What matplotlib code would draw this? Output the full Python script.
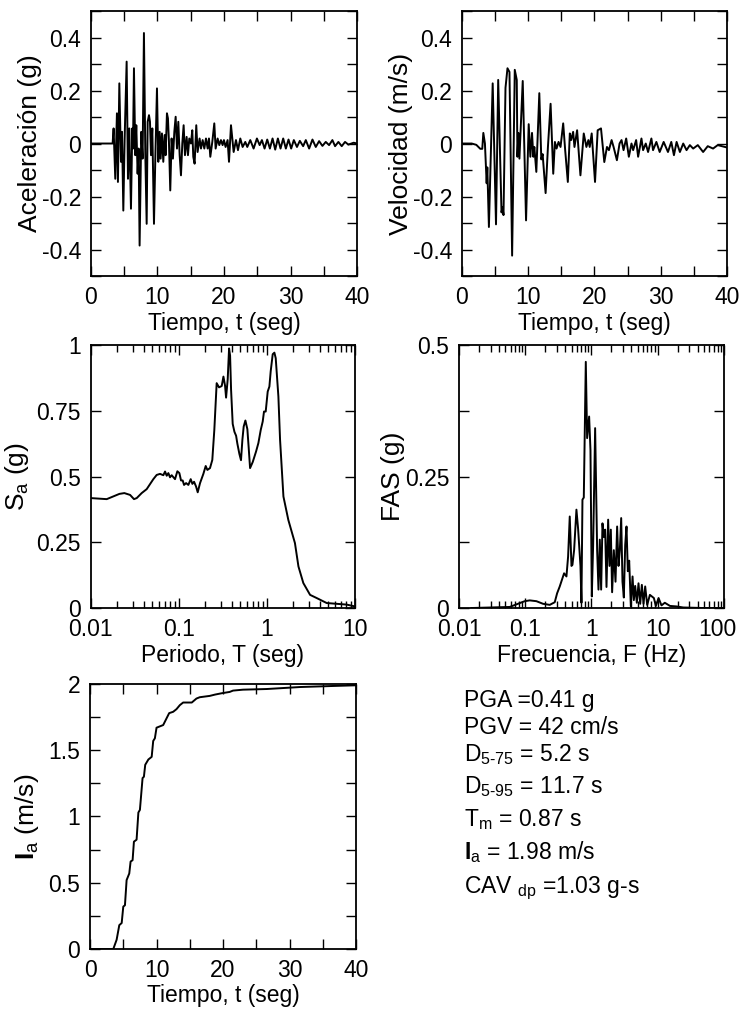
import matplotlib
matplotlib.use("Agg")
import matplotlib.pyplot as plt
from matplotlib.transforms import ScaledTranslation
from matplotlib.ticker import MultipleLocator, FixedLocator, LogLocator, FuncFormatter, NullFormatter

plt.rcParams["font.family"] = ["Liberation Sans", "DejaVu Sans"]
plt.rcParams["mathtext.fontset"] = "custom"
plt.rcParams["mathtext.rm"] = "Liberation Sans"
plt.rcParams["mathtext.it"] = "Liberation Sans"
plt.rcParams["mathtext.bf"] = "Liberation Sans:bold"
plt.rcParams["axes.unicode_minus"] = False

# aceleracion (g) vs tiempo (s)
acc_t = [0, 3.25, 3.40, 3.65, 3.90, 4.05, 4.26, 4.51, 4.66, 4.86, 5.06, 5.36, 5.56, 5.76, 6.01,
         6.21, 6.31, 6.46, 6.66, 6.81, 7.01, 7.16, 7.31, 7.56, 7.76, 7.96, 8.17, 8.37, 8.52,
         8.72, 8.87, 9.02, 9.22, 9.47, 9.67, 9.92, 10.12, 10.32, 10.47, 10.67, 10.87, 11.07,
         11.22, 11.42, 11.57, 11.72, 11.92, 12.12, 12.32, 12.53, 12.73, 12.93, 13.13, 13.33,
         13.53, 13.73, 13.93, 14.13, 14.38, 14.58, 14.78, 15.03, 15.23, 15.38, 15.58, 15.83,
         16.03, 16.33, 16.54, 16.79, 17.04, 17.29, 17.54, 17.74, 17.94, 18.24, 18.54, 18.74,
         19.04, 19.29, 19.54, 19.79, 19.99, 20.24, 20.54, 20.75, 21.05, 21.45, 21.8, 22.1,
         22.45, 22.8, 23.2, 23.5, 23.95, 24.45, 24.95, 25.36, 25.7, 26.1, 26.5, 26.9, 27.3,
         27.7, 28.1, 28.5, 28.9, 29.3, 29.7, 30.1, 30.5, 30.97, 31.4, 31.9, 32.3, 32.8, 33.3,
         33.8, 34.3, 34.8, 35.3, 35.8, 36.3, 36.7, 37.2, 37.7, 38.2, 38.7, 39.5, 40]
acc_g = [0, 0, 0.057, -0.133, 0.114, -0.145, 0.227, -0.069, 0.044, -0.253, 0.019, 0.309,
         -0.133, 0.057, -0.246, 0.057, -0.019, 0.284, -0.044, 0.069, -0.114, -0.019, -0.385,
         0.044, -0.057, 0.417, -0.044, -0.303, 0.082, 0.107, 0.082, -0.044, 0.057, -0.303,
         -0.057, 0.208, -0.069, 0.044, -0.057, 0.038, -0.069, 0.032, -0.044, 0.114, 0.095,
         0.006, -0.177, 0.019, -0.057, 0.044, 0.101, -0.019, 0.082, -0.044, -0.120, 0,
         0.069, -0.044, 0.025, -0.044, 0.019, 0, 0.050, -0.050, -0.076, 0.069, -0.032,
         0.019, -0.019, 0.013, -0.019, 0.019, -0.019, 0.019, -0.050, 0.006, 0.076, -0.019,
         0.019, -0.006, 0.013, -0.006, 0.013, -0.013, 0.013, -0.069, 0.069, -0.032, 0.013,
         -0.025, 0.019, -0.013, 0.006, -0.013, 0.013, -0.019, 0.019, -0.006, 0.013, -0.019,
         0.015, -0.019, 0.019, -0.023, 0.019, -0.019, 0.019, -0.019, 0.015, -0.019, 0.013,
         -0.013, 0.010, -0.010, 0.013, -0.019, 0.015, -0.013, 0.009, -0.009, 0.006, -0.006,
         0.013, -0.010, 0.006, -0.010, 0.006, -0.004, 0.003, 0]

# velocidad (m/s) vs tiempo (s)
vel_t = [0, 1.5, 2.2, 2.8, 3.1, 3.26, 3.5, 3.76, 3.86, 4.1, 4.67, 5.17, 5.5, 6.0, 6.15, 6.3,
         6.6, 6.9, 7.2, 7.6, 8.0, 8.3, 8.4, 8.55, 8.7, 9.2, 9.7, 10.1, 10.35, 10.6, 10.8,
         10.95, 11.25, 11.7, 12.0, 12.2, 12.65, 13.0, 13.4, 13.8, 14.05, 14.3, 14.6, 14.9,
         15.3, 15.6, 16.0, 16.3, 16.5, 16.8, 17.0, 17.4, 17.9, 18.4, 18.8, 19.1, 19.3, 19.6,
         20.1, 20.5, 21.0, 21.5, 21.9, 22.2, 22.6, 22.9, 23.4, 23.8, 24.1, 24.4, 24.8, 25.2,
         25.6, 25.85, 26.3, 26.6, 27.1, 27.35, 27.75, 28.1, 28.6, 28.85, 29.35, 29.85, 30.45,
         31.1, 31.6, 32.0, 32.4, 32.9, 33.4, 33.9, 34.4, 34.9, 35.6, 36.4, 37.1, 37.9, 38.6, 40]
vel_ms = [0, 0, -0.005, -0.02, -0.02, 0.04, 0.0, -0.15, -0.09, -0.315, 0.227, -0.305, 0.24,
          -0.26, -0.24, -0.27, 0.21, 0.284, 0.27, -0.423, 0.278, 0.24, -0.05, 0.04, -0.057,
          0.236, -0.29, 0.073, -0.05, 0.04, -0.05, -0.013, -0.107, 0.19, -0.06, -0.04, -0.187,
          -0.013, 0.15, -0.114, 0.006, -0.019, 0.006, -0.013, 0.076, -0.025, -0.145, 0.038,
          0.013, 0.044, -0.013, 0.05, -0.12, 0.038, -0.013, 0.013, -0.013, 0.038, -0.145,
          0.05, 0.057, -0.07, -0.013, -0.025, 0.013, -0.013, -0.063, 0.0, 0.013, -0.025,
          0.019, -0.05, 0.0, -0.025, 0.013, -0.05, 0.019, -0.025, 0.0, -0.032, 0.019, -0.025,
          0.006, -0.032, 0.006, -0.032, 0.006, -0.044, 0.006, -0.032, 0.0, -0.025, -0.006,
          -0.019, -0.006, -0.032, -0.01, -0.019, -0.006, -0.015]

# espectro de respuesta Sa (g) vs periodo (s)
sa_T = [0.01, 0.0152, 0.0212, 0.0241, 0.028, 0.031, 0.0333, 0.0379, 0.0432, 0.0514, 0.0561,
        0.0612, 0.0668, 0.0698, 0.0729, 0.0761, 0.0795, 0.083, 0.0906, 0.0963, 0.1015, 0.106,
        0.1107, 0.1147, 0.121, 0.1284, 0.1365, 0.1426, 0.149, 0.157, 0.1639, 0.1742, 0.190,
        0.202, 0.211, 0.226, 0.240, 0.253, 0.269, 0.286, 0.307, 0.321, 0.335, 0.344, 0.359,
        0.372, 0.382, 0.392, 0.409, 0.428, 0.447, 0.462, 0.487, 0.508, 0.527, 0.545, 0.570,
        0.600, 0.621, 0.644, 0.690, 0.721, 0.753, 0.800, 0.851, 0.896, 0.927, 0.969, 1.021,
        1.067, 1.104, 1.164, 1.216, 1.259, 1.35, 1.41, 1.54, 1.75, 2.08, 2.28, 2.59, 3.09,
        3.67, 4.77, 8.05, 10.0]
sa_g = [0.418, 0.414, 0.434, 0.437, 0.430, 0.414, 0.418, 0.437, 0.452, 0.490, 0.506, 0.510,
        0.505, 0.519, 0.503, 0.513, 0.497, 0.505, 0.490, 0.520, 0.513, 0.485, 0.485, 0.468,
        0.475, 0.468, 0.490, 0.472, 0.480, 0.462, 0.440, 0.475, 0.510, 0.540, 0.525, 0.532,
        0.563, 0.677, 0.855, 0.839, 0.844, 0.880, 0.845, 0.800, 0.870, 0.987, 0.960, 0.830,
        0.700, 0.670, 0.655, 0.625, 0.586, 0.562, 0.640, 0.690, 0.713, 0.680, 0.610, 0.532,
        0.555, 0.575, 0.595, 0.627, 0.677, 0.709, 0.747, 0.747, 0.823, 0.842, 0.900, 0.965,
        0.971, 0.950, 0.804, 0.640, 0.424, 0.335, 0.247, 0.158, 0.095, 0.050, 0.038, 0.019,
        0.013, 0.006]

# espectro de Fourier FAS (g) vs frecuencia (Hz)
fas_f = [0.0154, 0.0583, 0.0983, 0.117, 0.1475, 0.186, 0.2346, 0.279, 0.303, 0.332, 0.386,
         0.419, 0.444, 0.470, 0.499, 0.516, 0.547, 0.593, 0.629, 0.682, 0.706, 0.731, 0.766,
         0.821, 0.860, 0.922, 0.966, 1.012, 1.06, 1.136, 1.218, 1.276, 1.336, 1.40, 1.466,
         1.536, 1.609, 1.686, 1.786, 1.871, 1.96, 2.05, 2.175, 2.306, 2.44, 2.56, 2.68, 2.81,
         2.94, 3.08, 3.23, 3.38, 3.54, 3.71, 3.93, 4.17, 4.36, 4.57, 4.84, 5.13, 5.44, 5.76,
         6.11, 6.47, 6.94, 7.62, 8.75, 9.38, 10.3, 11.4, 12.8, 15.3, 19.3, 24.3, 48.7, 97.7]
fas_g = [0.0, 0.002, 0.013, 0.0145, 0.013, 0.008, 0.006, 0.011, 0.028, 0.041, 0.066, 0.060,
         0.098, 0.174, 0.080, 0.082, 0.110, 0.187, 0.150, 0.080, 0.010, 0.206, 0.210, 0.468,
         0.323, 0.364, 0.300, 0.022, 0.120, 0.342, 0.110, 0.035, 0.130, 0.035, 0.161, 0.135,
         0.149, 0.040, 0.168, 0.080, 0.149, 0.030, 0.110, 0.050, 0.155, 0.080, 0.110, 0.171,
         0.050, 0.020, 0.120, 0.155, 0.070, 0.090, 0.003, 0.060, 0.015, 0.042, 0.010, 0.047,
         0.008, 0.044, 0.008, 0.041, 0.006, 0.025, 0.019, 0.004, 0.019, 0.005, 0.010, 0.004,
         0.003, 0.001, 0.0, 0.0]

# intensidad de Arias (m/s) vs tiempo (s)
ia_t = [0, 3.5, 4.0, 4.4, 4.76, 5.0, 5.25, 5.5, 5.9, 6.1, 6.4, 6.6, 7.0, 7.27, 7.5, 7.9, 8.1,
        8.3, 8.77, 9.27, 9.5, 9.75, 10.0, 10.5, 11.0, 11.4, 11.9, 12.5, 13.0, 13.5, 14.0,
        15.3, 16.0, 16.5, 18.0, 18.8, 19.8, 21.0, 21.5, 23.0, 26.6, 31.6, 36.6, 40]
ia_ms = [0, 0, 0.07, 0.18, 0.196, 0.32, 0.33, 0.52, 0.57, 0.66, 0.67, 0.81, 0.825, 1.03, 1.05,
         1.29, 1.30, 1.39, 1.43, 1.45, 1.57, 1.59, 1.67, 1.68, 1.69, 1.73, 1.78, 1.79, 1.81,
         1.84, 1.86, 1.86, 1.89, 1.90, 1.91, 1.92, 1.93, 1.94, 1.95, 1.957, 1.962, 1.977,
         1.985, 1.99]

params = ["PGA =0.41 g", "PGV = 42 cm/s", r"D$_{\text{5-75}}$ = 5.2 s",
          r"D$_{\text{5-95}}$ = 11.7 s", r"T$_{\text{m}}$ = 0.87 s",
          r"$\mathbf{I}_{\text{a}}$ = 1.98 m/s", r"CAV $_{\text{dp}}$ =1.03 g-s"]

FS = 16.5    # texto horizontal
FSY = 19     # etiquetas verticales
LW = 1.4


def style(ax, log=False):
    ax.tick_params(which="both", direction="in", top=True, right=True, labelsize=FS,
                   width=1.0, pad=7)
    ax.tick_params(which="major", length=7)
    ax.tick_params(which="minor", length=7 if not log else 5)
    for s in ax.spines.values():
        s.set_linewidth(1.3)


def fmt(v, pos):
    return "%g" % v


def log_axis(ax):
    ax.set_xscale("log")
    ax.xaxis.set_major_locator(LogLocator(base=10, numticks=20))
    ax.xaxis.set_minor_locator(LogLocator(base=10, subs=range(2, 10), numticks=20))
    ax.xaxis.set_major_formatter(FuncFormatter(fmt))
    ax.xaxis.set_minor_formatter(NullFormatter())


fig = plt.figure(figsize=(7.41, 10.10), dpi=100)

ax1 = fig.add_axes([0.1228, 0.7267, 0.359, 0.2624])
ax1.plot(acc_t, acc_g, color="black", lw=LW)
ax1.set_xlim(0, 40)
ax1.set_ylim(-0.5, 0.5)
ax1.xaxis.set_major_locator(MultipleLocator(10))
ax1.xaxis.set_minor_locator(MultipleLocator(5))
ax1.yaxis.set_major_locator(FixedLocator([-0.4, -0.2, 0, 0.2, 0.4]))
ax1.yaxis.set_minor_locator(MultipleLocator(0.1))
ax1.yaxis.set_major_formatter(FuncFormatter(fmt))
ax1.set_xlabel("Tiempo, t (seg)", fontsize=FS, labelpad=2)
ax1.set_ylabel("Aceleración (g)", fontsize=FSY, labelpad=0)
style(ax1)

ax2 = fig.add_axes([0.6231, 0.7267, 0.358, 0.2624])
ax2.plot(vel_t, vel_ms, color="black", lw=LW)
ax2.set_xlim(0, 40)
ax2.set_ylim(-0.5, 0.5)
ax2.xaxis.set_major_locator(MultipleLocator(10))
ax2.xaxis.set_minor_locator(MultipleLocator(5))
ax2.yaxis.set_major_locator(FixedLocator([-0.4, -0.2, 0, 0.2, 0.4]))
ax2.yaxis.set_minor_locator(MultipleLocator(0.1))
ax2.yaxis.set_major_formatter(FuncFormatter(fmt))
ax2.set_xlabel("Tiempo, t (seg)", fontsize=FS, labelpad=2)
ax2.set_ylabel("Velocidad (m/s)", fontsize=FSY, labelpad=0)
style(ax2)

ax3 = fig.add_axes([0.1224, 0.398, 0.3567, 0.2604])
ax3.plot(sa_T, sa_g, color="black", lw=LW)
log_axis(ax3)
ax3.set_xlim(0.01, 10)
ax3.set_ylim(0, 1)
ax3.yaxis.set_major_locator(MultipleLocator(0.25))
ax3.yaxis.set_major_formatter(FuncFormatter(fmt))
ax3.set_xlabel("Periodo, T (seg)", fontsize=FS, labelpad=2)
ax3.set_ylabel("S$_{\\text{a}}$ (g)", fontsize=FSY, labelpad=4)
style(ax3, log=True)

ax4 = fig.add_axes([0.6194, 0.398, 0.3576, 0.2604])
ax4.plot(fas_f, fas_g, color="black", lw=LW)
log_axis(ax4)
ax4.set_xlim(0.01, 100)
ax4.set_ylim(0, 0.5)
ax4.yaxis.set_major_locator(FixedLocator([0, 0.25, 0.5]))
ax4.yaxis.set_minor_locator(MultipleLocator(0.125))
ax4.yaxis.set_major_formatter(FuncFormatter(fmt))
ax4.set_xlabel("Frecuencia, F (Hz)", fontsize=FS, labelpad=2)
ax4.set_ylabel("FAS (g)", fontsize=FSY, labelpad=0)
style(ax4, log=True)
ax4.tick_params(axis="y", which="minor", length=7)

ax5 = fig.add_axes([0.1215, 0.0604, 0.359, 0.2624])
ax5.plot(ia_t, ia_ms, color="black", lw=LW)
ax5.set_xlim(0, 40)
ax5.set_ylim(0, 2)
ax5.xaxis.set_major_locator(MultipleLocator(10))
ax5.xaxis.set_minor_locator(MultipleLocator(5))
ax5.yaxis.set_major_locator(MultipleLocator(0.5))
ax5.yaxis.set_minor_locator(MultipleLocator(0.25))
ax5.yaxis.set_major_formatter(FuncFormatter(fmt))
ax5.set_xlabel("Tiempo, t (seg)", fontsize=FS, labelpad=2)
ax5.set_ylabel(r"$\mathbf{I}_{\text{a}}$ (m/s)", fontsize=FSY, labelpad=5)
style(ax5)

line_y = [700, 727, 755, 787, 820, 852, 888]
for txt, py in zip(params, line_y):
    fig.text(464 / 741, 1 - py / 1010, txt, fontsize=FS, ha="left", va="center")

# el "100" del eje de frecuencia queda pegado al borde: se corre un poco a la izquierda
fig.canvas.draw()
for tick in ax4.xaxis.get_major_ticks():
    if abs(tick.get_loc() - 100) < 1e-6:
        lab = tick.label1
        lab.set_transform(lab.get_transform() + ScaledTranslation(-5 / 72, 0, fig.dpi_scale_trans))

fig.savefig("out.png", dpi=100)
